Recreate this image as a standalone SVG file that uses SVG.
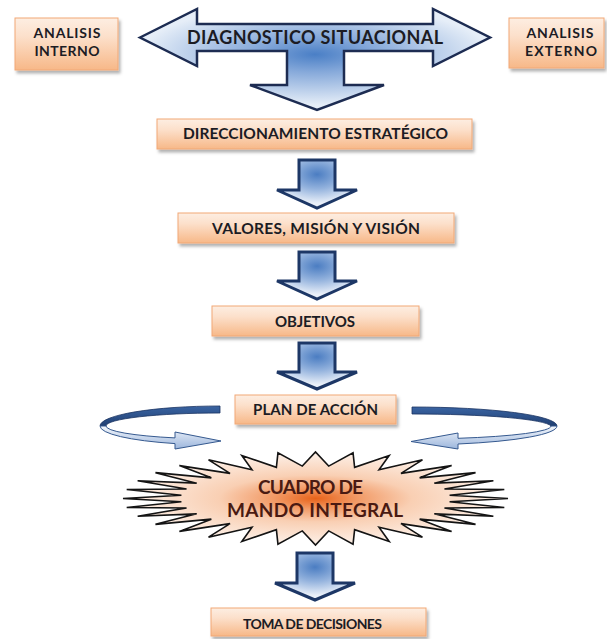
<svg xmlns="http://www.w3.org/2000/svg" width="607" height="639" viewBox="0 0 607 639">
  <defs>
    <style>
      .box { fill: url(#boxFill); stroke: #f1a877; stroke-width: 1; filter: url(#shadow); }
      .lbl { font-family: Lato, "Liberation Sans", sans-serif; font-weight: bold; fill: #1c1c24; text-anchor: middle; }
      .down { fill: url(#downFill); stroke: #1d3766; stroke-width: 3; stroke-linejoin: miter; }
      .back { fill: url(#backFill); stroke: #1a3462; stroke-width: 0.8; }
      .front { fill: url(#frontFill); stroke: #35598f; stroke-width: 1; }
      .burst-text { font-family: Lato, "Liberation Sans", sans-serif; font-weight: bold; fill: #4a1a12; text-anchor: middle; font-size: 19px; }
    </style>
    <filter id="shadow" x="-10%" y="-30%" width="130%" height="170%">
      <feDropShadow dx="2" dy="3" stdDeviation="1.5" flood-color="#000" flood-opacity="0.3"/>
    </filter>
    <linearGradient id="boxFill" x1="0" y1="0" x2="0" y2="1">
      <stop offset="0" stop-color="#fdeee2"/>
      <stop offset="0.35" stop-color="#fce0cb"/>
      <stop offset="1" stop-color="#f7b888"/>
    </linearGradient>
    <radialGradient id="bigFill" cx="0.5" cy="0.45" r="0.5">
      <stop offset="0" stop-color="#4a7fc6"/>
      <stop offset="0.35" stop-color="#86a9da"/>
      <stop offset="1" stop-color="#e6eef8"/>
    </radialGradient>
    <radialGradient id="downFill" cx="0.5" cy="0.3" r="0.6">
      <stop offset="0" stop-color="#4b7dc2"/>
      <stop offset="0.5" stop-color="#93b2dd"/>
      <stop offset="1" stop-color="#eaf0f9"/>
    </radialGradient>
    <linearGradient id="backFill" x1="0" y1="0" x2="0" y2="1">
      <stop offset="0" stop-color="#3a64a2"/>
      <stop offset="1" stop-color="#203f72"/>
    </linearGradient>
    <linearGradient id="frontFill" x1="0" y1="0" x2="0" y2="1">
      <stop offset="0" stop-color="#f4f7fc"/>
      <stop offset="1" stop-color="#9cb6dc"/>
    </linearGradient>
    <radialGradient id="burstFill" cx="0.5" cy="0.5" r="0.5">
      <stop offset="0" stop-color="#e8631a"/>
      <stop offset="0.22" stop-color="#f29a66"/>
      <stop offset="0.5" stop-color="#f9cfb3"/>
      <stop offset="1" stop-color="#fdf1e9"/>
    </radialGradient>
  </defs>

  <rect width="607" height="639" fill="#ffffff"/>

  <!-- analysis boxes -->
  <g id="analisis-interno">
    <rect class="box" x="15" y="18" width="103" height="52"/>
    <text class="lbl" x="67" y="38" font-size="14" textLength="67">ANALISIS</text>
    <text class="lbl" x="67" y="56" font-size="14" textLength="65">INTERNO</text>
  </g>
  <g id="analisis-externo">
    <rect class="box" x="509" y="18" width="95" height="50"/>
    <text class="lbl" x="560" y="38" font-size="14" textLength="67">ANALISIS</text>
    <text class="lbl" x="561" y="56" font-size="14" textLength="72">EXTERNO</text>
  </g>

  <!-- three-way block arrow -->
  <g id="diagnostico">
    <path d="M140,37.5 L197,9 L197,24 L433,24 L433,9 L490,37.5 L433,66 L433,51 L344,51 L344,85 L384,85 L317,110 L250,85 L287,85 L287,51 L197,51 L197,66 Z" fill="url(#bigFill)" stroke="#1d2c52" stroke-width="2.5" stroke-linejoin="miter"/>
    <text class="lbl" x="315" y="44" font-size="18" textLength="256" fill="#1d2433">DIAGNOSTICO SITUACIONAL</text>
  </g>

  <g id="direccionamiento">
    <rect class="box" x="157" y="119" width="315" height="30"/>
    <text class="lbl" x="315.5" y="139" font-size="15.5" textLength="265">DIRECCIONAMIENTO ESTRATÉGICO</text>
  </g>
  <g id="valores">
    <rect class="box" x="178" y="213" width="276" height="30"/>
    <text class="lbl" x="316" y="233.5" font-size="15.5" textLength="208">VALORES, MISIÓN Y VISIÓN</text>
  </g>
  <g id="objetivos">
    <rect class="box" x="212" y="306" width="207" height="30"/>
    <text class="lbl" x="315" y="327" font-size="15" textLength="80">OBJETIVOS</text>
  </g>
  <g id="plan">
    <rect class="box" x="235" y="395" width="161" height="29"/>
    <text class="lbl" x="315.5" y="415" font-size="15" textLength="125">PLAN DE ACCIÓN</text>
  </g>

  <!-- starburst -->
  <g id="cuadro-mando">
    <polygon fill="url(#burstFill)" stroke="#141414" stroke-width="1.6" stroke-linejoin="miter"
      points="508,498.5 449.6,501.69 504.3,507.57 444.45,507.95 493.35,516.29 434.34,513.84 475.56,524.33 419.66,519.15 451.62,531.38 400.98,523.66 422.45,537.16 379.02,527.21 389.17,541.46 354.62,529.65 353.05,544.11 328.71,530.89 315.5,545 302.29,530.89 277.95,544.11 276.38,529.65 241.83,541.46 251.98,527.21 208.55,537.16 230.02,523.66 179.38,531.38 211.34,519.15 155.44,524.33 196.66,513.84 137.65,516.29 186.55,507.95 126.7,507.57 181.4,501.69 123,498.5 181.4,495.31 126.7,489.43 186.55,489.05 137.65,480.71 196.66,483.16 155.44,472.67 211.34,477.85 179.38,465.62 230.02,473.34 208.55,459.84 251.98,469.79 241.83,455.54 276.38,467.35 277.95,452.89 302.29,466.11 315.5,452 328.71,466.11 353.05,452.89 354.62,467.35 389.17,455.54 379.02,469.79 422.45,459.84 400.98,473.34 451.62,465.62 419.66,477.85 475.56,472.67 434.34,483.16 493.35,480.71 444.45,489.05 504.3,489.43 449.6,495.31"/>
    <text class="burst-text" x="310.5" y="494" textLength="105">CUADRO DE</text>
    <text class="burst-text" x="315" y="517" textLength="176">MANDO INTEGRAL</text>
  </g>

  <g id="toma-decisiones">
    <rect class="box" x="211" y="608" width="215" height="28"/>
    <text class="lbl" x="312.5" y="628.5" font-size="14" textLength="139">TOMA DE DECISIONES</text>
  </g>

  <!-- connectors -->
  <g id="connectors">
    <path class="down" d="M299,160 L335,160 L335,190 L357,190 L317,208 L277,190 L299,190 Z"/>
    <path class="down" d="M299,252 L335,252 L335,281 L357,281 L317,299 L277,281 L299,281 Z"/>
    <path class="down" d="M299,343 L335,343 L335,372 L357,372 L317,389 L277,372 L299,372 Z"/>
    <path class="down" d="M297,553 L333,553 L333,583 L355,583 L315,600 L275,583 L297,583 Z"/>

    <!-- loop back from the plan on the left -->
    <path class="back" d="M220,406 A120,20 0 0 0 100,426 L106,426 A114,13 0 0 1 220,413 Z"/>
    <path class="front" d="M100,426 A120,19 0 0 0 175,443.6 L175,449 L221,441 L175,432 L175,437.9 A114,13 0 0 1 106,426 Z"/>

    <!-- loop back from the plan on the right -->
    <path class="back" d="M412,407 A145,19 0 0 1 557,426 L551,426 A139,13 0 0 0 412,414 Z"/>
    <path class="front" d="M557,426 A145,19 0 0 1 458,444 L458,449 L411,441.5 L458,433 L458,438.3 A139,13 0 0 0 551,426 Z"/>
  </g>
</svg>
